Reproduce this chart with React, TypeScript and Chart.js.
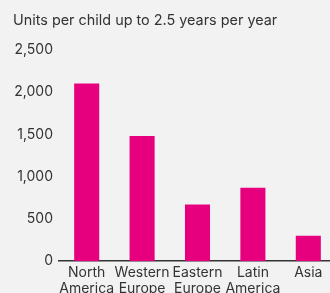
import React, { useEffect, useRef } from "react";
import { Chart, registerables } from "chart.js";

Chart.register(...registerables);

const categories: string[][] = [
  ["North", "America"],
  ["Western", "Europe"],
  ["Eastern", "Europe"],
  ["Latin", "America"],
  ["Asia"],
];
const unitsPerChild: number[] = [2100, 1480, 670, 870, 300];
const yTicks: number[] = [0, 500, 1000, 1500, 2000, 2500];
const titleText = "Units per child up to 2.5 years per year";

export default function App() {
  const ref = useRef<HTMLCanvasElement | null>(null);

  useEffect(() => {
    document.body.style.margin = "0";
    document.body.style.overflow = "hidden";
    document.body.style.background = "#f2f2f2";
    if (!ref.current) return;
    const font = "Inter, 'Open Sans', sans-serif";
    const chart = new Chart(ref.current, {
      type: "bar",
      data: {
        labels: categories,
        datasets: [
          {
            data: unitsPerChild,
            backgroundColor: "#e6007e",
            barPercentage: 0.4525,
            categoryPercentage: 1,
          },
        ],
      },
      options: {
        animation: false,
        responsive: true,
        maintainAspectRatio: false,
        layout: { padding: { left: 13, right: 0, top: 0, bottom: 0 } },
        plugins: {
          legend: { display: false },
          tooltip: { enabled: false },
          title: {
            display: true,
            text: titleText,
            align: "start",
            color: "#333333",
            font: { family: font, size: 14.4, weight: "normal", lineHeight: 1.2 },
            padding: { top: 12, bottom: 20.5 },
          },
        },
        scales: {
          x: {
            grid: { display: false, drawTicks: false },
            border: { display: true, color: "#333333", width: 1.5 },
            ticks: {
              color: "#333333",
              font: { family: font, size: 14, lineHeight: 1.1 },
              padding: 4,
              maxRotation: 0,
              autoSkip: false,
            },
          },
          y: {
            min: 0,
            max: 2500,
            afterBuildTicks: (axis: any) => {
              axis.ticks = yTicks.map((v) => ({ value: v }));
            },
            afterFit: (axis: any) => {
              axis.width = 46;
            },
            grid: { display: false, drawTicks: false },
            border: { display: false },
            ticks: {
              color: "#333333",
              font: { family: font, size: 14 },
              padding: 6,
              callback: (v: any) => Number(v).toLocaleString("en-US"),
            },
          },
        },
      },
    });
    return () => chart.destroy();
  }, []);

  return (
    <div style={{ width: 336, height: 300, position: "relative", background: "#f2f2f2" }}>
      <canvas ref={ref} />
    </div>
  );
}
